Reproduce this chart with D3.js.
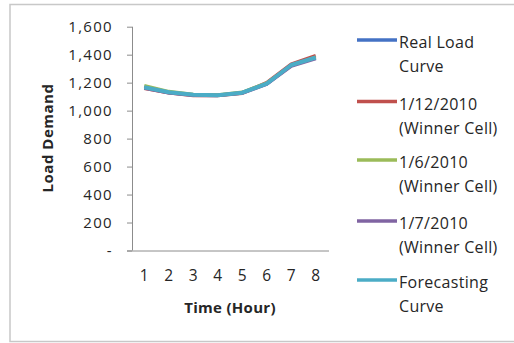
<!DOCTYPE html>
<html><head><meta charset="utf-8">
<script src="https://cdnjs.cloudflare.com/ajax/libs/d3/7.8.5/d3.min.js"></script>
<style>body{margin:0;background:#fff}svg{display:block}</style>
</head><body>
<script>
const hours = ["1","2","3","4","5","6","7","8"];
const realLoad   = [1165,1130,1113,1110,1128,1192,1325,1378];
const winner1212 = [1160,1127,1108,1108,1125,1200,1332,1393];
const winner0106 = [1178,1136,1116,1112,1131,1196,1322,1382];
const winner0107 = [1162,1128,1110,1109,1126,1189,1318,1372];
const forecast   = [1167,1131,1113,1110,1128,1193,1326,1380];
const yTicks = [0,200,400,600,800,1000,1200,1400,1600];
const seriesNames = ["Real Load|Curve","1/12/2010|(Winner Cell)","1/6/2010|(Winner Cell)","1/7/2010|(Winner Cell)","Forecasting|Curve"];
const seriesColors = ["#4472c4","#c0504d","#9bbb59","#8064a2","#4bacc6"];
const seriesData = [realLoad, winner1212, winner0106, winner0107, forecast];

const W=514,H=343;
const svg=d3.select("body").append("svg").attr("width",W).attr("height",H);
const font="'Open Sans', sans-serif";
const txt="#262626";
svg.append("rect").attr("x",10).attr("y",4.5).attr("width",520).attr("height",337)
  .attr("fill","#fff").attr("stroke","#c8c8c8").attr("stroke-width",1.5);

const x=d3.scaleBand().domain(hours).range([132,328]);
const y=d3.scaleLinear().domain([0,1600]).range([250.5,26.7]);

// y axis
const ya=svg.append("g").attr("transform","translate(132,0)")
  .call(d3.axisLeft(y).tickValues(yTicks).tickSize(5).tickPadding(14)
    .tickFormat(d=>d===0?"-":d3.format(",")(d)));
ya.select(".domain").attr("stroke","#8c8c8c").attr("d","M0.5,"+y(1600)+"V"+y(0));
ya.selectAll(".tick line").attr("stroke","#8c8c8c");
ya.selectAll(".tick text").attr("font-family",font).attr("font-size",15)
  .attr("letter-spacing",1.3).attr("fill",txt);

// x axis
const xa=svg.append("g").attr("transform","translate(0,"+y(0)+")")
  .call(d3.axisBottom(x).tickSize(0).tickPadding(19));
xa.select(".domain").attr("stroke","#8c8c8c").attr("d","M127,0.5H329");
xa.selectAll(".tick text").attr("font-family",font).attr("font-size",15.5).attr("fill",txt);

svg.append("text").attr("x",230).attr("y",313).attr("text-anchor","middle")
  .attr("font-family",font).attr("font-weight","bold").attr("font-size",15).attr("letter-spacing",0.3)
  .attr("fill",txt).text("Time (Hour)");
svg.append("text").attr("transform","translate(53,138) rotate(-90)").attr("text-anchor","middle")
  .attr("font-family",font).attr("font-weight","bold").attr("font-size",15).attr("letter-spacing",0.5)
  .attr("fill",txt).text("Load Demand");

const line=d3.line().x((d,i)=>x(hours[i])+x.bandwidth()/2).y(d=>y(d));
seriesData.forEach((s,k)=>{
  svg.append("path").datum(s).attr("d",line).attr("fill","none")
    .attr("stroke",seriesColors[k]).attr("stroke-width",k===4?4:3.5).attr("stroke-linejoin","round");
});

// legend
const legY=[40,101.5,160,221,280];
seriesNames.forEach((n,k)=>{
  const g=svg.append("g");
  g.append("line").attr("x1",357).attr("x2",397).attr("y1",legY[k]).attr("y2",legY[k])
    .attr("stroke",seriesColors[k]).attr("stroke-width",3.5);
  n.split("|").forEach((t,j)=>{
    g.append("text").attr("x",399).attr("y",legY[k]+8+j*24).attr("font-family",font)
      .attr("font-size",16).attr("letter-spacing",0.3).attr("fill",txt).text(t);
  });
});
</script>
</body></html>
